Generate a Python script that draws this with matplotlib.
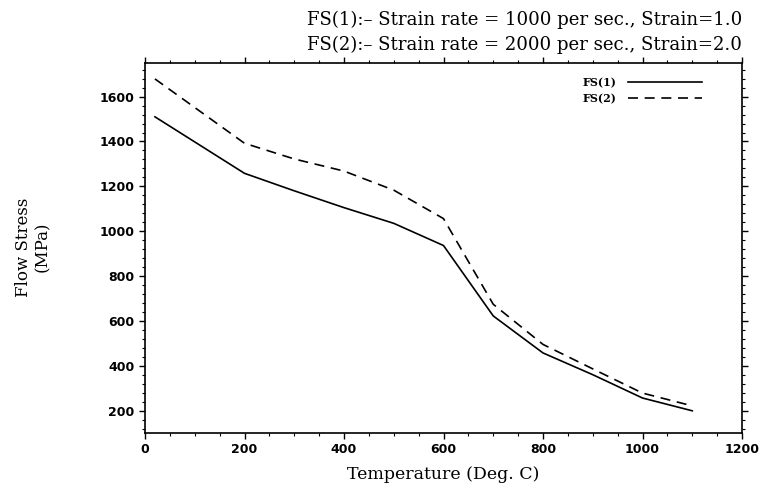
import matplotlib
matplotlib.use("Agg")
import matplotlib.pyplot as plt
from matplotlib.ticker import MultipleLocator

temps = [20, 200, 300, 400, 500, 600, 700, 800, 900, 1000, 1100]
fs1 = [1510, 1258, 1180, 1105, 1035, 936, 622, 457, 360, 256, 199]
fs2 = [1679, 1392, 1322, 1268, 1183, 1056, 674, 495, 386, 278, 221]
labels = ["FS(1)", "FS(2)"]
xticks = [0, 200, 400, 600, 800, 1000, 1200]
yticks = [200, 400, 600, 800, 1000, 1200, 1400, 1600]

fig = plt.figure(figsize=(7.59, 4.90), dpi=100)
ax = fig.add_axes([145/759, 1-433/490, (742-145)/759, (433-63)/490])

ax.plot(temps, fs1, color="black", lw=1.2, label=labels[0])
ax.plot(temps, fs2, color="black", lw=1.2, dashes=(6, 4), label=labels[1])

ax.set_xlim(0, 1200)
ax.set_ylim(100, 1750)
ax.set_xticks(xticks)
ax.set_yticks(yticks)
ax.xaxis.set_minor_locator(MultipleLocator(50))
ax.yaxis.set_minor_locator(MultipleLocator(40))
ax.tick_params(which="both", direction="out", top=True, right=True, color="black")
ax.tick_params(which="major", length=4, width=1)
ax.tick_params(which="minor", length=2.5, width=0.8)
for lab in ax.get_xticklabels() + ax.get_yticklabels():
    lab.set_fontfamily("DejaVu Sans")
    lab.set_fontweight("bold")
    lab.set_fontsize(9)
for s in ax.spines.values():
    s.set_linewidth(1.2)

ax.set_xlabel("Temperature (Deg. C)", family="DejaVu Serif", fontsize=12.5, labelpad=7)
fig.text(33/759, 1-247/490, "Flow Stress\n(MPa)", rotation=90, family="DejaVu Serif",
         fontsize=12, ha="center", va="center", multialignment="center")

fig.text(307/759, 1-25/490, "FS(1):\u2013 Strain rate = 1000 per sec., Strain=1.0",
         family="DejaVu Serif", fontsize=13.1, ha="left", va="baseline")
fig.text(307/759, 1-50/490, "FS(2):\u2013 Strain rate = 2000 per sec., Strain=2.0",
         family="DejaVu Serif", fontsize=13.1, ha="left", va="baseline")

leg = ax.legend(loc="upper right", bbox_to_anchor=(702/759, 1-77/490),
                bbox_transform=fig.transFigure, frameon=False,
                borderpad=0, borderaxespad=0,
                markerfirst=False, handlelength=6.7, handletextpad=1.0,
                prop={"family": "DejaVu Serif", "weight": "bold", "size": 8},
                labelspacing=0.45)

fig.savefig("out.png", dpi=100)
